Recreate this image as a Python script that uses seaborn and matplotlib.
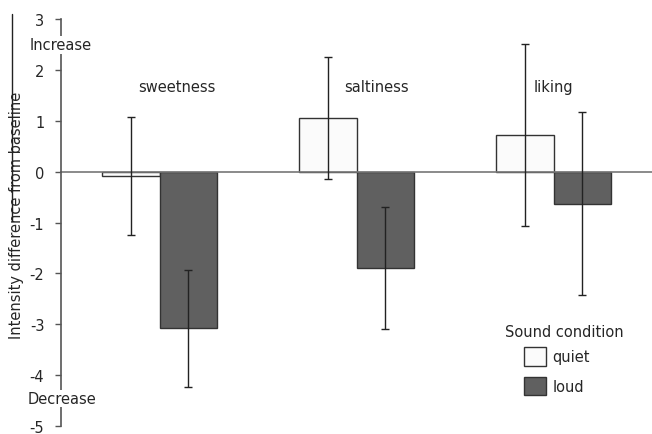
import numpy as np
import pandas as pd
import matplotlib
matplotlib.use('Agg')
import matplotlib.pyplot as plt
import seaborn as sns
from matplotlib.lines import Line2D

# ---------- data ----------
attributes = ["sweetness", "saltiness", "liking"]
conditions = ["quiet", "loud"]
quiet_mean = [-0.08, 1.05, 0.72]
loud_mean = [-3.08, -1.89, -0.63]
quiet_err = [1.16, 1.2, 1.78]
loud_err = [1.15, 1.2, 1.8]

df = pd.DataFrame({
    "attribute": attributes * 2,
    "condition": ["quiet"] * 3 + ["loud"] * 3,
    "value": quiet_mean + loud_mean,
    "err": quiet_err + loud_err,
})

sns.set_style("white")
plt.rcParams['font.family'] = ['DejaVu Sans']
plt.rcParams['font.size'] = 10.5

W, H = 652, 435
fig = plt.figure(figsize=(W / 100, H / 100), dpi=100)
ax = fig.add_axes([61 / W, 1 - 427 / H, 1 - 61 / W, (427 - 20) / H])

palette = {"quiet": "#fbfbfb", "loud": "#606060"}
sns.barplot(data=df, x="attribute", y="value", hue="condition",
            hue_order=conditions, palette=palette, width=0.58,
            edgecolor="#333333", linewidth=1.0, errorbar=None,
            saturation=1, ax=ax)

# error bars on bar centres
for cont, cond in zip(ax.containers, conditions):
    sub = df[df["condition"] == cond]
    xs = [p.get_x() + p.get_width() / 2 for p in cont.patches]
    ax.errorbar(xs, sub["value"], yerr=sub["err"], fmt='none',
                ecolor="#222222", elinewidth=1.0, capsize=3, capthick=1.0,
                zorder=5)

ax.set_ylim(-5, 3)
ax.set_xlim(-0.5, 2.5)
ax.set_yticks(range(-5, 4))
ax.set_yticklabels([str(v) for v in range(-5, 4)])

# spines
for s in ["top", "right"]:
    ax.spines[s].set_visible(False)
ax.spines["left"].set_color("#555555")
ax.spines["left"].set_linewidth(1.2)
ax.spines["bottom"].set_position(("data", 0))
ax.spines["bottom"].set_color("#777777")
ax.spines["bottom"].set_linewidth(1.2)
ax.spines["bottom"].set_zorder(1)
ax.set_xticks([0.5, 1.5])
ax.set_xticklabels([])
ax.tick_params(axis="x", direction="out", length=3, color="#999999", width=0.8)
ax.tick_params(axis="y", direction="out", length=4, color="#555555",
               width=1.0, labelsize=10.5, pad=8, left=True)

ax.set_xlabel("")
ax.set_ylabel("Intensity difference from baseline", fontsize=10.5)
ax.yaxis.set_label_coords(-0.0626, 0.52)

# category labels
label_x = [0.09, 1.1, 2.0]
for xx, txt in zip(label_x, attributes):
    ax.text(xx, 1.68, txt, ha="center", va="center", fontsize=10.5)

ax.text(0.0, 2.49, "Increase", transform=ax.get_yaxis_transform(),
        ha="center", va="center", fontsize=10.5, zorder=6, clip_on=False,
        bbox=dict(facecolor="white", edgecolor="none", pad=1))
ax.text(0.002, -4.46, "Decrease", transform=ax.get_yaxis_transform(),
        ha="center", va="center", fontsize=10.5, zorder=6, clip_on=False,
        bbox=dict(facecolor="white", edgecolor="none", pad=1))

# overline artifact next to y label
fig.add_artist(Line2D([12 / W, 12 / W], [1 - 15 / H, 1 - 222 / H],
                      color="#222222", linewidth=1.0))

# legend: title as separate text, entries below, indented
fig.text(505 / W, 1 - 333 / H, "Sound condition", ha="left", va="center",
         fontsize=10.5, color="#262626")
handles, labels = ax.get_legend_handles_labels()
leg = ax.legend(handles, labels, frameon=False,
                loc="upper left", bbox_to_anchor=(524 / W, 1 - 348 / H),
                bbox_transform=fig.transFigure, borderpad=0, borderaxespad=0,
                handlelength=1.5, handleheight=1.6, fontsize=10.5,
                labelspacing=0.75, handletextpad=0.45)

fig.savefig("out.png", dpi=100)
